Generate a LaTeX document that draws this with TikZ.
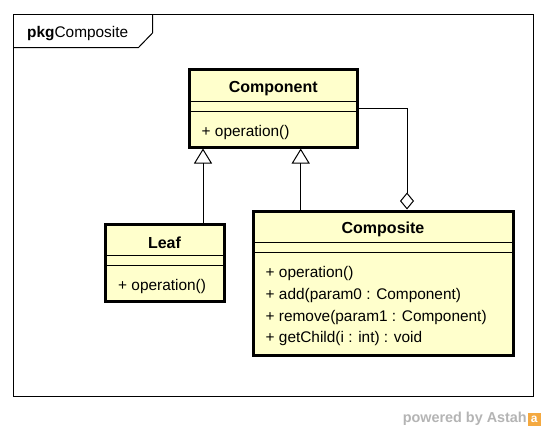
\documentclass[tikz,border=0pt]{standalone}
\usepackage{fontspec}
\setmainfont{Liberation Sans}
\usetikzlibrary{arrows.meta,calc}
\definecolor{classfill}{HTML}{FFFFCC}
\definecolor{wmgray}{HTML}{B4B4B4}
\definecolor{logoor}{HTML}{F4A940}
\begin{document}
\begin{tikzpicture}[x=1pt,y=-1pt,
  classbox/.style={draw=black, line width=3pt, fill=classfill, inner sep=0pt, outer sep=0pt},
  sep/.style={line width=1pt},
  cname/.style={font=\fontsize{16}{19}\selectfont\bfseries, inner sep=0pt},
  member/.style={font=\fontsize{15.4}{18}\selectfont, inner sep=0pt, anchor=west},
  gen/.style={line width=1pt, -{Triangle[open, length=15pt, width=18pt, line width=1pt]}, shorten >=1.5pt},
  agg/.style={line width=1pt, -{Diamond[open, length=17pt, width=14pt, line width=1pt]}, shorten >=1.5pt},
  frame/.style={line width=1pt}]
\useasboundingbox (0,0) rectangle (546,434);
% package frame
\draw[frame] (13.5,14) rectangle (533.5,396.5);
\draw[frame] (152.5,14) -- (152.5,33) -- (138.5,47.5) -- (13.5,47.5);
\node[anchor=west, inner sep=0pt, font=\fontsize{15.4}{18}\selectfont] (pkglabel) at (27,34) {\textbf{pkg}Composite};
% classes
\node[classbox, minimum width=168.5, minimum height=78] (comp) at (273.25,108) {};
\node[classbox, minimum width=119, minimum height=77.5] (leaf) at (164.5,262.75) {};
\node[classbox, minimum width=260, minimum height=144] (cps) at (383,283) {};
% Component
\node[cname] (compname) at (273.25,88.5) {Component};
\draw[sep] ($(comp.west)+(0,-6.5)$) -- ($(comp.east)+(0,-6.5)$);
\draw[sep] ($(comp.west)+(0,3)$) -- ($(comp.east)+(0,3)$);
\node[member] (compop) at (201.5,132.5) {+ operation()};
% Leaf
\node[cname] (leafname) at (164.5,243.2) {Leaf};
\draw[sep] (105,255.7) -- (224,255.7);
\draw[sep] (105,265.7) -- (224,265.7);
\node[member] (leafop) at (118,286.5) {+ operation()};
% Composite
\node[cname] (cpsname) at (383,229.8) {Composite};
\draw[sep] (253,242.7) -- (513,242.7);
\draw[sep] (253,252.7) -- (513,252.7);
\node[member] (m1) at (265.5,273.2) {+ operation()};
\node[member] (m2) at (265.5,295.5) {+ add(param0 : Component)};
\node[member] (m3) at (265.5,317.2) {+ remove(param1 : Component)};
\node[member] (m4) at (265.5,338.2) {+ getChild(i : int) : void};
% connectors
\coordinate (g1) at (203,0);
\coordinate (g2) at (300.7,0);
\coordinate (ag) at (407,0);
\draw[gen] (leaf.north -| g1) -- (comp.south -| g1);
\draw[gen] (cps.north -| g2) -- (comp.south -| g2);
\draw[agg] (comp.east) -| (cps.north -| ag);
% watermark
\node[anchor=east, inner sep=0pt, text=wmgray, font=\fontsize{14.4}{17}\selectfont\bfseries] (wm) at (527,419) {powered by Astah};
\node[fill=logoor, inner sep=0pt, minimum width=13, minimum height=13, text=white, font=\fontsize{12}{12}\selectfont\bfseries, anchor=west] (logo) at (527.5,419.5) {a};
\end{tikzpicture}
\end{document}
